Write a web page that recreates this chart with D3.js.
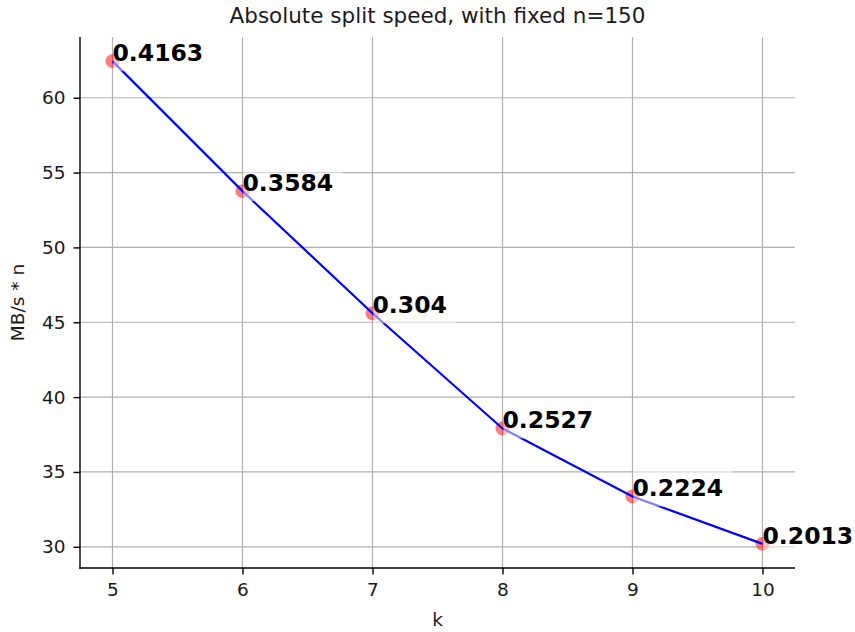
<!DOCTYPE html>
<html><head><meta charset="utf-8">
<script src="https://cdn.jsdelivr.net/npm/d3@7"></script>
<style>body{margin:0;background:#fff}svg{display:block}text{font-family:"DejaVu Sans",sans-serif}</style>
</head><body>
<svg id="c" width="855" height="632"></svg>
<script>
const ks = [5, 6, 7, 8, 9, 10];
const speeds = [62.445, 53.76, 45.6, 37.905, 33.36, 30.195];
const labels = ["0.4163", "0.3584", "0.304", "0.2527", "0.2224", "0.2013"];
const xTicks = [5, 6, 7, 8, 9, 10];
const yTicks = [30, 35, 40, 45, 50, 55, 60];
const title = "Absolute split speed, with fixed n=150";
const xLabel = "k";
const yLabel = "MB/s * n";

const svg = d3.select("#c");
const L = 80, R = 795, T = 37, B = 568;
const x = d3.scaleLinear().domain([4.75, 10.25]).range([L, R]);
const yMin = d3.min(speeds), yMax = d3.max(speeds), pad = (yMax - yMin) * 0.05;
const y = d3.scaleLinear().domain([yMin - pad, yMax + pad]).range([B, T]);

// grid
svg.append("g").selectAll("line").data(xTicks).join("line")
  .attr("x1", d => x(d)).attr("x2", d => x(d)).attr("y1", T).attr("y2", B)
  .attr("stroke", "#b0b0b0").attr("stroke-width", 1.2);
svg.append("g").selectAll("line").data(yTicks).join("line")
  .attr("y1", d => y(d)).attr("y2", d => y(d)).attr("x1", L).attr("x2", R)
  .attr("stroke", "#b0b0b0").attr("stroke-width", 1.2);

// axes
const xa = svg.append("g").attr("transform", `translate(0,${B})`)
  .call(d3.axisBottom(x).tickValues(xTicks).tickFormat(d3.format("d")).tickSize(6.5).tickPadding(8).tickSizeOuter(0));
const ya = svg.append("g").attr("transform", `translate(${L},0)`)
  .call(d3.axisLeft(y).tickValues(yTicks).tickFormat(d3.format("d")).tickSize(6.5).tickPadding(8).tickSizeOuter(0));
[xa, ya].forEach(a => {
  a.select(".domain").remove();
  a.selectAll("line").attr("stroke", "#000").attr("stroke-width", 1.4);
  a.selectAll("text").attr("font-size", "18.5px").attr("fill", "#1a1a1a")
    .attr("font-family", "DejaVu Sans, sans-serif");
});
svg.append("line").attr("x1", L).attr("x2", L).attr("y1", T).attr("y2", B + 0.7)
  .attr("stroke", "#000").attr("stroke-width", 1.4);
svg.append("line").attr("x1", L - 0.7).attr("x2", R).attr("y1", B).attr("y2", B)
  .attr("stroke", "#000").attr("stroke-width", 1.4);

// markers
const pts = ks.map((k, i) => ({k, v: speeds[i], lab: labels[i]}));
svg.append("g").selectAll("circle").data(pts).join("circle")
  .attr("cx", d => x(d.k)).attr("cy", d => y(d.v)).attr("r", 7)
  .attr("fill", "#ff0000").attr("fill-opacity", 0.5);

// line
svg.append("path").datum(pts)
  .attr("d", d3.line().x(d => x(d.k)).y(d => y(d.v)))
  .attr("fill", "none").attr("stroke", "#0000ff").attr("stroke-width", 2.2);

// labels with translucent white boxes
const lg = svg.append("g");
pts.forEach(d => {
  const g = lg.append("g");
  const t = g.append("text").attr("x", x(d.k)).attr("y", y(d.v))
    .attr("font-size", "23.5px").attr("font-weight", "bold").attr("fill", "#000").text(d.lab);
  const w = t.node().getComputedTextLength();
  g.insert("rect", "text").attr("x", x(d.k) + 1).attr("y", y(d.v) - 28)
    .attr("width", w + 8).attr("height", 38)
    .attr("fill", "#fff").attr("fill-opacity", 0.5);
});

// titles
svg.append("text").attr("x", (L + R) / 2).attr("y", 23).attr("text-anchor", "middle")
  .attr("font-size", "21.5px").attr("fill", "#1a1a1a").text(title);
svg.append("text").attr("x", (L + R) / 2).attr("y", 626).attr("text-anchor", "middle")
  .attr("font-size", "18.5px").attr("fill", "#1a1a1a").text(xLabel);
svg.append("text").attr("transform", `translate(24,${(T + B) / 2}) rotate(-90)`)
  .attr("text-anchor", "middle").attr("font-size", "18.5px").attr("fill", "#1a1a1a").text(yLabel);
</script>
</body></html>
